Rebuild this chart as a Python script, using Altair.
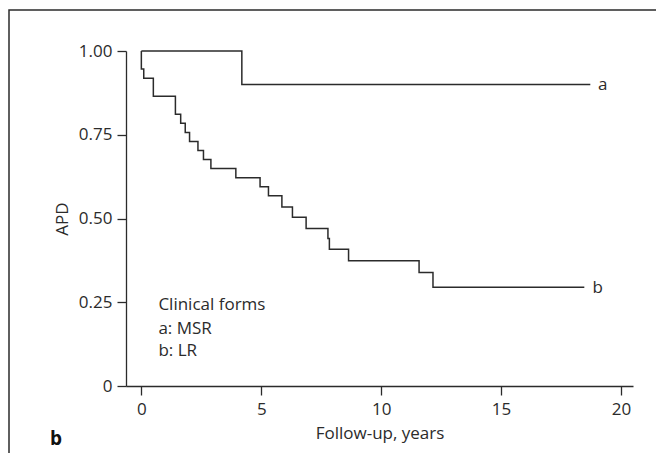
import altair as alt
import pandas as pd

# Kaplan-Meier steps
a_time = [0.0, 4.19, 18.72]
a_surv = [1.0, 0.90, 0.90]

b_time = [0.0, 0.0, 0.1, 0.5, 1.42, 1.64, 1.83, 2.01, 2.36, 2.59, 2.90, 3.94,
          4.95, 5.30, 5.86, 6.30, 6.87, 7.78, 7.84, 8.64, 11.58, 12.16, 18.47]
b_surv = [1.0, 0.946, 0.919, 0.865, 0.811, 0.784, 0.757, 0.730, 0.703, 0.676, 0.649, 0.622,
          0.595, 0.568, 0.534, 0.504, 0.470, 0.440, 0.408, 0.374, 0.339, 0.295, 0.295]

curve_labels = ["a", "b"]
legend_lines = ["Clinical forms", "a: MSR", "b: LR"]
x_ticks = [0, 5, 10, 15, 20]
y_ticks = [0, 0.25, 0.5, 0.75, 1.0]

FONT = "Open Sans"
INK = "#2b2b2b"

rows = []
for i, (t, s) in enumerate(zip(a_time, a_surv)):
    rows.append({"group": "a", "t": t, "s": s, "o": i})
for i, (t, s) in enumerate(zip(b_time, b_surv)):
    rows.append({"group": "b", "t": t, "s": s, "o": i})
df = pd.DataFrame(rows)

xs = alt.Scale(domain=[-0.64, 20.5], nice=False, zero=False)
ys = alt.Scale(domain=[0, 1], nice=False)

lines = alt.Chart(df).mark_line(interpolate="step-after", color=INK, strokeWidth=1.5).encode(
    x=alt.X("t:Q", scale=xs, axis=alt.Axis(
        values=x_ticks, format="d", title="Follow-up, years", grid=False,
        tickSize=9, labelPadding=6, titlePadding=8)),
    y=alt.Y("s:Q", scale=ys, axis=alt.Axis(
        values=y_ticks, grid=False, title="APD", tickSize=9, labelPadding=5,
        titlePadding=7,
        labelExpr="datum.value == 0 ? '0' : format(datum.value, '.2f')")),
    detail="group:N",
    order="o:Q",
)

lab_df = pd.DataFrame({
    "label": curve_labels,
    "t": [19.04, 18.81],
    "s": [0.90, 0.292],
})
labels = alt.Chart(lab_df).mark_text(
    align="left", baseline="middle", font=FONT, fontSize=17, color=INK, dx=0
).encode(x=alt.X("t:Q", scale=xs), y=alt.Y("s:Q", scale=ys), text="label:N")

leg_df = pd.DataFrame({
    "line": legend_lines,
    "t": [0.71, 0.71, 0.71],
    "s": [0.226, 0.156, 0.089],
})
legend = alt.Chart(leg_df).mark_text(
    align="left", baseline="alphabetic", font=FONT, fontSize=17, color=INK
).encode(x=alt.X("t:Q", scale=xs), y=alt.Y("s:Q", scale=ys), text="line:N")

frame = alt.Chart(pd.DataFrame({"k": [0]})).mark_rect(
    fillOpacity=0, stroke=INK, strokeWidth=1.5
).encode(x=alt.value(-117), x2=alt.value(700), y=alt.value(-41), y2=alt.value(600))

panel = alt.Chart(pd.DataFrame({"p": ["b"]})).mark_text(
    align="left", baseline="middle", font=FONT, fontSize=19, fontWeight="bold", color="#111"
).encode(x=alt.value(-76), y=alt.value(388), text="p:N")

chart = alt.layer(frame, lines, labels, legend, panel).properties(
    width=507, height=335,
    autosize=alt.AutoSizeParams(type="none"),
    padding={"left": 118, "top": 43, "right": 23, "bottom": 67},
).configure_view(stroke=None).configure_axis(
    domainColor=INK, tickColor=INK, domainWidth=1.3, tickWidth=1.3,
    labelFont=FONT, titleFont=FONT, labelFontSize=17, titleFontSize=17,
    labelColor=INK, titleColor=INK, titleFontWeight="normal",
)

chart.save("out.html", embed_options={"renderer": "svg", "actions": False})
